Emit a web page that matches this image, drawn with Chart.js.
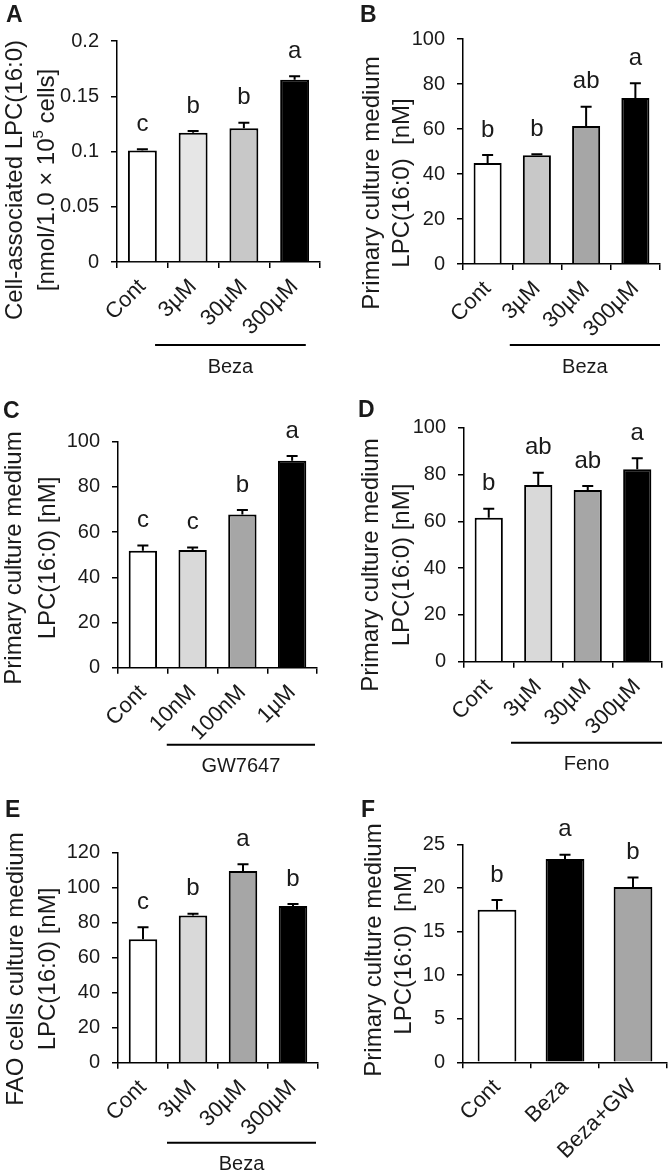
<!DOCTYPE html>
<html><head><meta charset="utf-8">
<script src="https://cdn.jsdelivr.net/npm/chart.js@4"></script>
<style>
html,body{margin:0;padding:0;background:#fff;}
#wrap{position:relative;width:670px;height:1173px;overflow:hidden;background:#fff;}
canvas{position:absolute;}
</style></head><body><div id="wrap"></div>
<script>
// ---- data ----
const catsA = ['Cont','3µM','30µM','300µM'];
const meanA = [0.101, 0.117, 0.121, 0.165];
const semA  = [0.001, 0.0015, 0.005, 0.003];
const sigA  = ['c','b','b','a'];
const ticksA = ['0','0.05','0.1','0.15','0.2'];

const catsB = ['Cont','3µM','30µM','300µM'];
const meanB = [44.9, 48.3, 61.3, 73.8];
const semB  = [3.5, 0.5, 8.6, 6.5];
const sigB  = ['b','b','ab','a'];
const ticksB = ['0','20','40','60','80','100'];

const catsC = ['Cont','10nM','100nM','1µM'];
const meanC = [51.8, 52.1, 67.8, 91.6];
const semC  = [2.3, 1.1, 2.0, 2.1];
const sigC  = ['c','c','b','a'];
const ticksC = ['0','20','40','60','80','100'];

const catsD = ['Cont','3µM','30µM','300µM'];
const meanD = [61.5, 75.5, 73.4, 82.2];
const semD  = [3.9, 5.3, 1.7, 4.7];
const sigD  = ['b','ab','ab','a'];
const ticksD = ['0','20','40','60','80','100'];

const catsE = ['Cont','3µM','30µM','300µM'];
const meanE = [70.4, 83.9, 109.3, 89.4];
const semE  = [6.8, 1.1, 3.9, 1.1];
const sigE  = ['c','b','a','b'];
const ticksE = ['0','20','40','60','80','100','120'];

const catsF = ['Cont','Beza','Beza+GW'];
const meanF = [17.5, 23.3, 20.1];
const semF  = [1.1, 0.5, 1.1];
const sigF  = ['b','a','b'];
const ticksF = ['0','5','10','15','20','25'];

// ---- layout / style ----
const FONT = "'Liberation Sans', Arial, Helvetica, sans-serif";
const TXT = '#1a1a1a';
const panels = [
  {letter:'A', cats:catsA, mean:meanA, sem:semA, sig:sigA, ticks:ticksA, max:0.2, step:0.05,
   colors:['#ffffff','#e6e6e6','#c8c8c8','#000000'],
   title:['Cell-associated LPC(16:0)', ['[nmol/1.0 × 10','5',' cells]']],
   group:'Beza', bracket:{from:1,to:3,lead:0.75,trail:0.22,dy:83},
   box:{left:0,top:0,w:335,h:385}, plot:{x:117,top:41,bottom:262,right:320}, titleY:180, titleX:[15,47], letterY:22, letterX:6},
  {letter:'B', cats:catsB, mean:meanB, sem:semB, sig:sigB, ticks:ticksB, max:100, step:20,
   colors:['#ffffff','#c8c8c8','#a6a6a6','#000000'],
   title:['Primary culture medium', 'LPC(16:0)  [nM]'],
   group:'Beza', bracket:{from:1,to:3,lead:0.55,trail:0.5,dy:81},
   box:{left:335,top:0,w:335,h:385}, plot:{x:463,top:39,bottom:264,right:660}, titleY:183, titleX:[37,67], letterY:22, letterX:25},
  {letter:'C', cats:catsC, mean:meanC, sem:semC, sig:sigC, ticks:ticksC, max:100, step:20,
   colors:['#ffffff','#d9d9d9','#a6a6a6','#000000'],
   title:['Primary culture medium', 'LPC(16:0) [nM]'],
   group:'GW7647', bracket:{from:1,to:3,lead:0.52,trail:0.46,dy:77},
   box:{left:0,top:385,w:335,h:390}, plot:{x:118,top:441.7,bottom:667.7,right:317}, titleY:558, titleX:[14,48], letterY:418, letterX:3},
  {letter:'D', cats:catsD, mean:meanD, sem:semD, sig:sigD, ticks:ticksD, max:100, step:20,
   colors:['#ffffff','#d9d9d9','#a6a6a6','#000000'],
   title:['Primary culture medium', 'LPC(16:0) [nM]'],
   group:'Feno', bracket:{from:1,to:3,lead:0.55,trail:0.5,dy:81},
   box:{left:335,top:385,w:335,h:390}, plot:{x:464,top:427.7,bottom:661.7,right:662}, titleY:565, titleX:[36,67], letterY:417, letterX:23},
  {letter:'E', cats:catsE, mean:meanE, sem:semE, sig:sigE, ticks:ticksE, max:120, step:20,
   colors:['#ffffff','#d9d9d9','#a6a6a6','#000000'],
   title:['FAO cells culture medium', 'LPC(16:0) [nM]'],
   group:'Beza', bracket:{from:1,to:3,lead:0.52,trail:0.46,dy:80},
   box:{left:0,top:775,w:335,h:398}, plot:{x:118,top:852.3,bottom:1062.7,right:318}, titleY:969, titleX:[16,48], letterY:817, letterX:5},
  {letter:'F', cats:catsF, mean:meanF, sem:semF, sig:sigF, ticks:ticksF, max:25, step:5,
   colors:['#ffffff','#000000','#a6a6a6'],
   title:['Primary culture medium', 'LPC(16:0)  [nM]'],
   group:null, bracket:null,
   box:{left:335,top:775,w:335,h:398}, plot:{x:463,top:844.3,bottom:1062.3,right:667}, titleY:950, titleX:[39,69], letterY:817, letterX:26}
];

const decor = {
  id:'decor',
  afterDatasetsDraw(chart){
    const p = chart.options.plugins.decor.p;
    const ctx = chart.ctx, xs = chart.scales.x, ys = chart.scales.y;
    ctx.save();
    ctx.strokeStyle = '#000'; ctx.lineWidth = 2;
    p.mean.forEach((v,i)=>{
      const x = xs.getPixelForValue(i);
      const yb = ys.getPixelForValue(v);
      const yt = ys.getPixelForValue(v + p.sem[i]);
      ctx.beginPath(); ctx.moveTo(x, yb); ctx.lineTo(x, yt);
      ctx.moveTo(x-5.5, yt); ctx.lineTo(x+5.5, yt); ctx.stroke();
      ctx.fillStyle = TXT; ctx.font = `24px ${FONT}`;
      ctx.textAlign='center'; ctx.textBaseline='middle';
      ctx.fillText(p.sig[i], x, yt - 25);
    });
    ctx.restore();
  },
  afterDraw(chart){
    const p = chart.options.plugins.decor.p;
    const ctx = chart.ctx, xs = chart.scales.x;
    ctx.save();
    ctx.fillStyle = TXT;
    // panel letter
    ctx.font = `bold 23px ${FONT}`; ctx.textAlign='left'; ctx.textBaseline='alphabetic';
    ctx.fillText(p.letter, p.letterX, p.letterY - p.box.top);
    // y title
    ctx.font = `24px ${FONT}`;
    p.title.forEach((line,k)=>{
      ctx.save();
      ctx.translate(p.titleX[k], p.titleY - p.box.top);
      ctx.rotate(-Math.PI/2);
      ctx.textBaseline='middle';
      if (Array.isArray(line)) {
        const f1 = `24px ${FONT}`, f2 = `15px ${FONT}`;
        ctx.font = f1; const w0 = ctx.measureText(line[0]).width, w2 = ctx.measureText(line[2]).width;
        ctx.font = f2; const w1 = ctx.measureText(line[1]).width;
        let x = -(w0+w1+w2)/2;
        ctx.textAlign='left';
        ctx.font = f1; ctx.fillText(line[0], x, 0); x += w0;
        ctx.font = f2; ctx.fillText(line[1], x, -8); x += w1;
        ctx.font = f1; ctx.fillText(line[2], x, 0);
      } else {
        ctx.textAlign='center'; ctx.fillText(line, 0, 0);
      }
      ctx.restore();
    });
    // bracket + group label
    if (p.bracket) {
      const b = p.bracket;
      const cw = xs.getPixelForValue(1) - xs.getPixelForValue(0);
      const x1 = xs.getPixelForValue(b.from) - b.lead*cw;
      const x2 = xs.getPixelForValue(b.to) + b.trail*cw;
      const y = chart.chartArea.bottom + b.dy;
      ctx.strokeStyle='#000'; ctx.lineWidth=2;
      ctx.beginPath(); ctx.moveTo(x1,y); ctx.lineTo(x2,y); ctx.stroke();
      ctx.font = `20px ${FONT}`; ctx.textAlign='center'; ctx.textBaseline='middle';
      ctx.fillText(p.group, (x1+x2)/2, y + 22);
    }
    ctx.restore();
  }
};

const wrap = document.getElementById('wrap');
panels.forEach(p=>{
  const cv = document.createElement('canvas');
  cv.width = p.box.w; cv.height = p.box.h;
  cv.style.left = p.box.left+'px'; cv.style.top = p.box.top+'px';
  cv.style.width = p.box.w+'px'; cv.style.height = p.box.h+'px';
  wrap.appendChild(cv);
  new Chart(cv.getContext('2d'), {
    type:'bar',
    data:{ labels:p.cats, datasets:[{ data:p.mean, backgroundColor:p.colors, borderColor:'#000', borderWidth:2, borderSkipped:'start', barPercentage:0.57, categoryPercentage:1 }]},
    options:{
      responsive:false, animation:false, devicePixelRatio:1,
      layout:{ padding:{ top:p.plot.top - p.box.top, right:p.box.left + p.box.w - p.plot.right, left:0, bottom:0 } },
      plugins:{ legend:{display:false}, tooltip:{enabled:false}, decor:{p} },
      scales:{
        x:{ type:'category', offset:true,
            grid:{ offset:true, drawOnChartArea:false, drawTicks:true, tickLength:6, color:'#000', lineWidth:1.5 },
            border:{ display:true, color:'#000', width:1.5 },
            ticks:{ autoSkip:false, maxRotation:45, minRotation:45, padding:6, color:TXT, font:{family:FONT, size:22} },
            afterFit(s){ s.height = p.box.top + p.box.h - p.plot.bottom; } },
        y:{ min:0, max:p.max,
            grid:{ drawOnChartArea:false, drawTicks:true, tickLength:6, color:'#000', lineWidth:1.5 },
            border:{ display:true, color:'#000', width:1.5 },
            ticks:{ stepSize:p.step, padding:12, color:TXT, font:{family:FONT, size:20}, callback:(v,i)=>p.ticks[i] },
            afterFit(s){ s.width = p.plot.x - p.box.left; } }
      }
    },
    plugins:[decor]
  });
});
</script></body></html>
